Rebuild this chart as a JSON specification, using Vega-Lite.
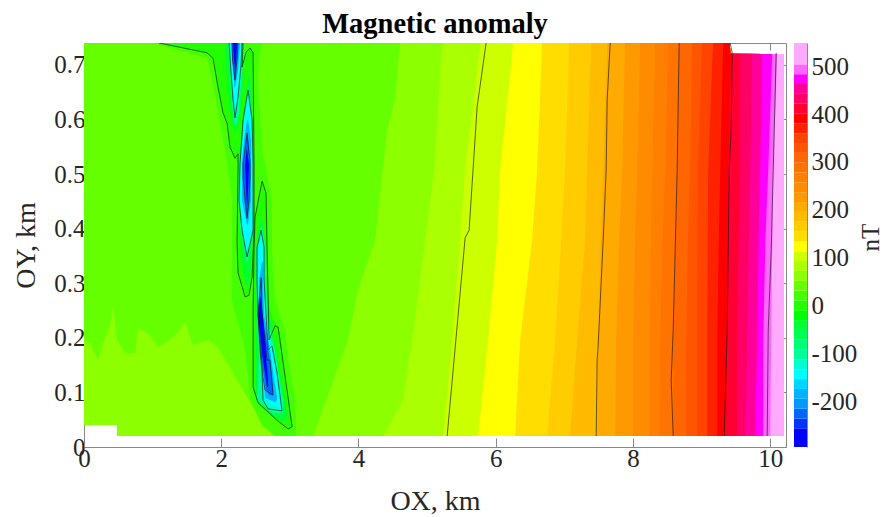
{"$schema":"https://vega.github.io/schema/vega-lite/v6.json","background":"white","padding":{"left":12,"top":10,"right":0,"bottom":0},"spacing":7,
"config":{"view":{"stroke":null},"axis":{"labelFont":"Liberation Serif","titleFont":"Liberation Serif","labelFontSize":25,"titleFontSize":28,"titleFontWeight":"normal","labelColor":"#262626","titleColor":"#262626","domainColor":"#888888","tickColor":"#888888","domainWidth":1,"tickWidth":1,"grid":false,"labelPadding":6,"labelFlush":false}},
"datasets":{
"bands":[
{"id":"a00","l":52.5,"y":0.02,"x":0.48,"x2":10.2},{"id":"a00","l":52.5,"y":0.0399,"x":0.48,"x2":10.2},{"id":"a00","l":52.5,"y":0.04,"x":0,"x2":10.2},{"id":"a00","l":52.5,"y":0.72,"x":0,"x2":10.2},{"id":"a00","l":52.5,"y":0.7201,"x":0,"x2":9.42},{"id":"a00","l":52.5,"y":0.74,"x":0,"x2":9.41},
{"id":"a01","l":73,"y":0.02,"x":4.359,"x2":10.2},{"id":"a01","l":73,"y":0.086,"x":4.65,"x2":10.2},{"id":"a01","l":73,"y":0.196,"x":4.781,"x2":10.2},{"id":"a01","l":73,"y":0.379,"x":4.971,"x2":10.2},{"id":"a01","l":73,"y":0.507,"x":5.102,"x2":10.2},{"id":"a01","l":73,"y":0.72,"x":5.21,"x2":10.2},{"id":"a01","l":73,"y":0.7201,"x":5.21,"x2":9.42},{"id":"a01","l":73,"y":0.74,"x":5.233,"x2":9.41},
{"id":"a02","l":93.5,"y":0.02,"x":5.233,"x2":10.2},{"id":"a02","l":93.5,"y":0.196,"x":5.364,"x2":10.2},{"id":"a02","l":93.5,"y":0.379,"x":5.481,"x2":10.2},{"id":"a02","l":93.5,"y":0.507,"x":5.554,"x2":10.2},{"id":"a02","l":93.5,"y":0.72,"x":5.76,"x2":10.2},{"id":"a02","l":93.5,"y":0.7201,"x":5.76,"x2":9.42},{"id":"a02","l":93.5,"y":0.74,"x":5.773,"x2":9.41},
{"id":"a03","l":114,"y":0.02,"x":5.743,"x2":10.2},{"id":"a03","l":114,"y":0.196,"x":5.889,"x2":10.2},{"id":"a03","l":114,"y":0.379,"x":6.02,"x2":10.2},{"id":"a03","l":114,"y":0.507,"x":6.064,"x2":10.2},{"id":"a03","l":114,"y":0.72,"x":6.24,"x2":10.2},{"id":"a03","l":114,"y":0.7201,"x":6.24,"x2":9.42},{"id":"a03","l":114,"y":0.74,"x":6.254,"x2":9.41},
{"id":"a04","l":134.5,"y":0.02,"x":6.283,"x2":10.2},{"id":"a04","l":134.5,"y":0.196,"x":6.356,"x2":10.2},{"id":"a04","l":134.5,"y":0.379,"x":6.531,"x2":10.2},{"id":"a04","l":134.5,"y":0.507,"x":6.603,"x2":10.2},{"id":"a04","l":134.5,"y":0.72,"x":6.67,"x2":10.2},{"id":"a04","l":134.5,"y":0.7201,"x":6.67,"x2":9.42},{"id":"a04","l":134.5,"y":0.74,"x":6.676,"x2":9.41},
{"id":"a05","l":155,"y":0.02,"x":6.749,"x2":10.2},{"id":"a05","l":155,"y":0.196,"x":6.866,"x2":10.2},{"id":"a05","l":155,"y":0.379,"x":6.953,"x2":10.2},{"id":"a05","l":155,"y":0.507,"x":7.012,"x2":10.2},{"id":"a05","l":155,"y":0.72,"x":7.065,"x2":10.2},{"id":"a05","l":155,"y":0.7201,"x":7.065,"x2":9.42},{"id":"a05","l":155,"y":0.74,"x":7.07,"x2":9.41},
{"id":"a06","l":175.5,"y":0.02,"x":7.085,"x2":10.2},{"id":"a06","l":175.5,"y":0.196,"x":7.187,"x2":10.2},{"id":"a06","l":175.5,"y":0.379,"x":7.303,"x2":10.2},{"id":"a06","l":175.5,"y":0.507,"x":7.332,"x2":10.2},{"id":"a06","l":175.5,"y":0.72,"x":7.385,"x2":10.2},{"id":"a06","l":175.5,"y":0.7201,"x":7.385,"x2":9.42},{"id":"a06","l":175.5,"y":0.74,"x":7.391,"x2":9.41},
{"id":"a07","l":196,"y":0.02,"x":7.478,"x2":10.2},{"id":"a07","l":196,"y":0.196,"x":7.493,"x2":10.2},{"id":"a07","l":196,"y":0.379,"x":7.53,"x2":10.2},{"id":"a07","l":196,"y":0.507,"x":7.566,"x2":10.2},{"id":"a07","l":196,"y":0.72,"x":7.62,"x2":10.2},{"id":"a07","l":196,"y":0.7201,"x":7.62,"x2":9.42},{"id":"a07","l":196,"y":0.74,"x":7.624,"x2":9.41},
{"id":"a08","l":216.5,"y":0.02,"x":7.741,"x2":10.2},{"id":"a08","l":216.5,"y":0.196,"x":7.755,"x2":10.2},{"id":"a08","l":216.5,"y":0.379,"x":7.8,"x2":10.2},{"id":"a08","l":216.5,"y":0.507,"x":7.843,"x2":10.2},{"id":"a08","l":216.5,"y":0.72,"x":7.88,"x2":10.2},{"id":"a08","l":216.5,"y":0.7201,"x":7.88,"x2":9.42},{"id":"a08","l":216.5,"y":0.74,"x":7.886,"x2":9.41},
{"id":"a09","l":237,"y":0.02,"x":8.003,"x2":10.2},{"id":"a09","l":237,"y":0.196,"x":8.003,"x2":10.2},{"id":"a09","l":237,"y":0.379,"x":8.03,"x2":10.2},{"id":"a09","l":237,"y":0.507,"x":8.061,"x2":10.2},{"id":"a09","l":237,"y":0.72,"x":8.1,"x2":10.2},{"id":"a09","l":237,"y":0.7201,"x":8.1,"x2":9.42},{"id":"a09","l":237,"y":0.74,"x":8.105,"x2":9.41},
{"id":"a10","l":257.5,"y":0.02,"x":8.236,"x2":10.2},{"id":"a10","l":257.5,"y":0.196,"x":8.236,"x2":10.2},{"id":"a10","l":257.5,"y":0.379,"x":8.26,"x2":10.2},{"id":"a10","l":257.5,"y":0.507,"x":8.28,"x2":10.2},{"id":"a10","l":257.5,"y":0.72,"x":8.32,"x2":10.2},{"id":"a10","l":257.5,"y":0.7201,"x":8.32,"x2":9.42},{"id":"a10","l":257.5,"y":0.74,"x":8.324,"x2":9.41},
{"id":"a11","l":278,"y":0.02,"x":8.382,"x2":10.2},{"id":"a11","l":278,"y":0.196,"x":8.397,"x2":10.2},{"id":"a11","l":278,"y":0.379,"x":8.43,"x2":10.2},{"id":"a11","l":278,"y":0.507,"x":8.469,"x2":10.2},{"id":"a11","l":278,"y":0.72,"x":8.51,"x2":10.2},{"id":"a11","l":278,"y":0.7201,"x":8.51,"x2":9.42},{"id":"a11","l":278,"y":0.74,"x":8.513,"x2":9.41},
{"id":"a12","l":298.5,"y":0.02,"x":8.586,"x2":10.2},{"id":"a12","l":298.5,"y":0.196,"x":8.586,"x2":10.2},{"id":"a12","l":298.5,"y":0.379,"x":8.615,"x2":10.2},{"id":"a12","l":298.5,"y":0.507,"x":8.644,"x2":10.2},{"id":"a12","l":298.5,"y":0.72,"x":8.67,"x2":10.2},{"id":"a12","l":298.5,"y":0.7201,"x":8.67,"x2":9.42},{"id":"a12","l":298.5,"y":0.74,"x":8.673,"x2":9.41},
{"id":"a13","l":319,"y":0.02,"x":8.776,"x2":10.2},{"id":"a13","l":319,"y":0.196,"x":8.776,"x2":10.2},{"id":"a13","l":319,"y":0.379,"x":8.8,"x2":10.2},{"id":"a13","l":319,"y":0.507,"x":8.834,"x2":10.2},{"id":"a13","l":319,"y":0.72,"x":8.86,"x2":10.2},{"id":"a13","l":319,"y":0.7201,"x":8.86,"x2":9.42},{"id":"a13","l":319,"y":0.74,"x":8.863,"x2":9.41},
{"id":"a14","l":339.5,"y":0.02,"x":8.936,"x2":10.2},{"id":"a14","l":339.5,"y":0.196,"x":8.936,"x2":10.2},{"id":"a14","l":339.5,"y":0.379,"x":8.94,"x2":10.2},{"id":"a14","l":339.5,"y":0.507,"x":8.95,"x2":10.2},{"id":"a14","l":339.5,"y":0.72,"x":9.0,"x2":10.2},{"id":"a14","l":339.5,"y":0.7201,"x":9.0,"x2":9.42},{"id":"a14","l":339.5,"y":0.74,"x":9.009,"x2":9.41},
{"id":"a15","l":360,"y":0.02,"x":9.082,"x2":10.2},{"id":"a15","l":360,"y":0.196,"x":9.082,"x2":10.2},{"id":"a15","l":360,"y":0.379,"x":9.09,"x2":10.2},{"id":"a15","l":360,"y":0.507,"x":9.096,"x2":10.2},{"id":"a15","l":360,"y":0.72,"x":9.16,"x2":10.2},{"id":"a15","l":360,"y":0.7201,"x":9.16,"x2":9.42},{"id":"a15","l":360,"y":0.74,"x":9.169,"x2":9.41},
{"id":"a16","l":380.5,"y":0.02,"x":9.227,"x2":10.2},{"id":"a16","l":380.5,"y":0.196,"x":9.227,"x2":10.2},{"id":"a16","l":380.5,"y":0.379,"x":9.25,"x2":10.2},{"id":"a16","l":380.5,"y":0.507,"x":9.271,"x2":10.2},{"id":"a16","l":380.5,"y":0.72,"x":9.31,"x2":10.2},{"id":"a16","l":380.5,"y":0.7201,"x":9.31,"x2":9.42},{"id":"a16","l":380.5,"y":0.74,"x":9.315,"x2":9.41},
{"id":"a17","l":401,"y":0.02,"x":9.359,"x2":10.2},{"id":"a17","l":401,"y":0.196,"x":9.373,"x2":10.2},{"id":"a17","l":401,"y":0.379,"x":9.38,"x2":10.2},{"id":"a17","l":401,"y":0.507,"x":9.388,"x2":10.2},{"id":"a17","l":401,"y":0.72,"x":9.431,"x2":10.2},
{"id":"a18","l":421.5,"y":0.02,"x":9.519,"x2":10.2},{"id":"a18","l":421.5,"y":0.196,"x":9.519,"x2":10.2},{"id":"a18","l":421.5,"y":0.379,"x":9.54,"x2":10.2},{"id":"a18","l":421.5,"y":0.507,"x":9.563,"x2":10.2},{"id":"a18","l":421.5,"y":0.72,"x":9.563,"x2":10.2},
{"id":"a19","l":442,"y":0.02,"x":9.636,"x2":10.2},{"id":"a19","l":442,"y":0.196,"x":9.665,"x2":10.2},{"id":"a19","l":442,"y":0.379,"x":9.69,"x2":10.2},{"id":"a19","l":442,"y":0.507,"x":9.708,"x2":10.2},{"id":"a19","l":442,"y":0.72,"x":9.738,"x2":10.2},
{"id":"a20","l":462.5,"y":0.02,"x":9.781,"x2":10.2},{"id":"a20","l":462.5,"y":0.196,"x":9.81,"x2":10.2},{"id":"a20","l":462.5,"y":0.379,"x":9.83,"x2":10.2},{"id":"a20","l":462.5,"y":0.507,"x":9.854,"x2":10.2},{"id":"a20","l":462.5,"y":0.72,"x":9.883,"x2":10.2},
{"id":"a21","l":483,"y":0.02,"x":9.898,"x2":10.2},{"id":"a21","l":483,"y":0.196,"x":9.898,"x2":10.2},{"id":"a21","l":483,"y":0.379,"x":9.93,"x2":10.2},{"id":"a21","l":483,"y":0.507,"x":9.971,"x2":10.2},{"id":"a21","l":483,"y":0.72,"x":10.029,"x2":10.2},
{"id":"a22","l":503.5,"y":0.02,"x":10.0,"x2":10.2},{"id":"a22","l":503.5,"y":0.196,"x":10.015,"x2":10.2},{"id":"a22","l":503.5,"y":0.379,"x":10.03,"x2":10.2},{"id":"a22","l":503.5,"y":0.507,"x":10.044,"x2":10.2},{"id":"a22","l":503.5,"y":0.72,"x":10.102,"x2":10.2}
],
"plain":[
{"l":32,"x":0,"y":0.196,"y2":0.74},{"l":32,"x":0.087,"y":0.19,"y2":0.74},{"l":32,"x":0.204,"y":0.159,"y2":0.74},{"l":32,"x":0.277,"y":0.19,"y2":0.74},{"l":32,"x":0.379,"y":0.223,"y2":0.74},{"l":32,"x":0.423,"y":0.26,"y2":0.74},{"l":32,"x":0.481,"y":0.196,"y2":0.74},{"l":32,"x":0.598,"y":0.172,"y2":0.74},{"l":32,"x":0.743,"y":0.172,"y2":0.74},{"l":32,"x":0.787,"y":0.218,"y2":0.74},{"l":32,"x":0.962,"y":0.205,"y2":0.74},{"l":32,"x":1.079,"y":0.183,"y2":0.74},{"l":32,"x":1.254,"y":0.196,"y2":0.74},{"l":32,"x":1.37,"y":0.211,"y2":0.74},{"l":32,"x":1.472,"y":0.229,"y2":0.74},{"l":32,"x":1.589,"y":0.187,"y2":0.74},{"l":32,"x":1.808,"y":0.196,"y2":0.74},{"l":32,"x":1.939,"y":0.185,"y2":0.74},{"l":32,"x":2.464,"y":0.073,"y2":0.74},{"l":32,"x":2.755,"y":0.02,"y2":0.74},{"l":32,"x":3.338,"y":0.02,"y2":0.74},{"l":32,"x":3.834,"y":0.19,"y2":0.74},{"l":32,"x":3.994,"y":0.288,"y2":0.74},{"l":32,"x":4.242,"y":0.379,"y2":0.74},{"l":32,"x":4.417,"y":0.581,"y2":0.74},{"l":32,"x":4.534,"y":0.636,"y2":0.74},{"l":32,"x":4.606,"y":0.74,"y2":0.74}
],
"blobs":[
{"id":"b01","l":11.5,"y":0.02,"x":2.784,"x2":3.09},{"id":"b01","l":11.5,"y":0.04,"x":2.595,"x2":3.09},{"id":"b01","l":11.5,"y":0.086,"x":2.42,"x2":3.076},{"id":"b01","l":11.5,"y":0.178,"x":2.347,"x2":2.959},{"id":"b01","l":11.5,"y":0.214,"x":2.274,"x2":2.93},{"id":"b01","l":11.5,"y":0.269,"x":2.157,"x2":2.784},{"id":"b01","l":11.5,"y":0.361,"x":2.157,"x2":2.74},{"id":"b01","l":11.5,"y":0.452,"x":2.157,"x2":2.74},{"id":"b01","l":11.5,"y":0.544,"x":2.055,"x2":2.595},{"id":"b01","l":11.5,"y":0.672,"x":1.866,"x2":2.536},{"id":"b01","l":11.5,"y":0.712,"x":1.793,"x2":2.55},{"id":"b01","l":11.5,"y":0.74,"x":1.0,"x2":2.595},
{"id":"b02","l":-9,"y":0.74,"x":1.093,"x2":2.318},{"id":"b02","l":-9,"y":0.722,"x":1.793,"x2":2.318},{"id":"b02","l":-9,"y":0.712,"x":1.88,"x2":2.318},{"id":"b02","l":-9,"y":0.698,"x":1.91,"x2":2.318},{"id":"b02","l":-9,"y":0.696,"x":1.91,"x2":2.464},{"id":"b02","l":-9,"y":0.659,"x":1.953,"x2":2.478},{"id":"b02","l":-9,"y":0.612,"x":2.026,"x2":2.478},{"id":"b02","l":-9,"y":0.593,"x":2.085,"x2":2.478},{"id":"b02","l":-9,"y":0.549,"x":2.128,"x2":2.478},{"id":"b02","l":-9,"y":0.529,"x":2.201,"x2":2.478},{"id":"b02","l":-9,"y":0.52,"x":2.245,"x2":2.478},{"id":"b02","l":-9,"y":0.374,"x":2.23,"x2":2.493},{"id":"b02","l":-9,"y":0.319,"x":2.245,"x2":2.449},{"id":"b02","l":-9,"y":0.297,"x":2.289,"x2":2.434},{"id":"b02","l":-9,"y":0.275,"x":2.376,"x2":2.391},
{"id":"b03","l":-9,"y":0.731,"x":2.42,"x2":2.434},{"id":"b03","l":-9,"y":0.722,"x":2.362,"x2":2.464},{"id":"b03","l":-9,"y":0.696,"x":2.318,"x2":2.464},
{"id":"b04","l":-9,"y":0.487,"x":2.595,"x2":2.602},{"id":"b04","l":-9,"y":0.465,"x":2.551,"x2":2.653},{"id":"b04","l":-9,"y":0.421,"x":2.493,"x2":2.668},{"id":"b04","l":-9,"y":0.361,"x":2.485,"x2":2.668},{"id":"b04","l":-9,"y":0.31,"x":2.464,"x2":2.682},{"id":"b04","l":-9,"y":0.256,"x":2.464,"x2":2.697},{"id":"b04","l":-9,"y":0.196,"x":2.464,"x2":2.872},{"id":"b04","l":-9,"y":0.104,"x":2.464,"x2":2.959},{"id":"b04","l":-9,"y":0.081,"x":2.536,"x2":3.003},{"id":"b04","l":-9,"y":0.049,"x":2.813,"x2":3.017},{"id":"b04","l":-9,"y":0.037,"x":2.945,"x2":3.032},{"id":"b04","l":-9,"y":0.031,"x":2.988,"x2":3.003},
{"id":"b05","l":-9,"y":0.222,"x":2.784,"x2":2.799},{"id":"b05","l":-9,"y":0.22,"x":2.77,"x2":2.828},{"id":"b05","l":-9,"y":0.196,"x":2.697,"x2":2.872},
{"id":"c01","l":-50,"y":0.74,"x":2.055,"x2":2.318},{"id":"c01","l":-50,"y":0.672,"x":2.085,"x2":2.318},{"id":"c01","l":-50,"y":0.617,"x":2.128,"x2":2.289},{"id":"c01","l":-50,"y":0.59,"x":2.172,"x2":2.245},{"id":"c01","l":-50,"y":0.577,"x":2.201,"x2":2.208},
{"id":"c02","l":-50,"y":0.681,"x":2.391,"x2":2.405},{"id":"c02","l":-50,"y":0.636,"x":2.347,"x2":2.449},{"id":"c02","l":-50,"y":0.52,"x":2.245,"x2":2.464},{"id":"c02","l":-50,"y":0.397,"x":2.274,"x2":2.464},{"id":"c02","l":-50,"y":0.339,"x":2.3,"x2":2.44},{"id":"c02","l":-50,"y":0.297,"x":2.36,"x2":2.405},
{"id":"c03","l":-50,"y":0.419,"x":2.58,"x2":2.595},{"id":"c03","l":-50,"y":0.366,"x":2.507,"x2":2.653},{"id":"c03","l":-50,"y":0.269,"x":2.493,"x2":2.668},{"id":"c03","l":-50,"y":0.178,"x":2.507,"x2":2.798},{"id":"c03","l":-50,"y":0.086,"x":2.507,"x2":2.93},{"id":"c03","l":-50,"y":0.059,"x":2.711,"x2":2.959},{"id":"c03","l":-50,"y":0.048,"x":2.872,"x2":2.93},
{"id":"d01","l":-111.5,"y":0.74,"x":2.1,"x2":2.31},{"id":"d01","l":-111.5,"y":0.68,"x":2.13,"x2":2.3},{"id":"d01","l":-111.5,"y":0.61,"x":2.17,"x2":2.26},{"id":"d01","l":-111.5,"y":0.585,"x":2.2,"x2":2.21},
{"id":"d02","l":-111.5,"y":0.66,"x":2.39,"x2":2.4},{"id":"d02","l":-111.5,"y":0.599,"x":2.33,"x2":2.44},{"id":"d02","l":-111.5,"y":0.52,"x":2.26,"x2":2.46},{"id":"d02","l":-111.5,"y":0.452,"x":2.245,"x2":2.46},{"id":"d02","l":-111.5,"y":0.397,"x":2.28,"x2":2.46},{"id":"d02","l":-111.5,"y":0.34,"x":2.37,"x2":2.385},
{"id":"d03","l":-111.5,"y":0.405,"x":2.58,"x2":2.59},{"id":"d03","l":-111.5,"y":0.366,"x":2.51,"x2":2.64},{"id":"d03","l":-111.5,"y":0.306,"x":2.51,"x2":2.65},{"id":"d03","l":-111.5,"y":0.242,"x":2.52,"x2":2.67},{"id":"d03","l":-111.5,"y":0.178,"x":2.55,"x2":2.78},{"id":"d03","l":-111.5,"y":0.086,"x":2.52,"x2":2.9},{"id":"d03","l":-111.5,"y":0.062,"x":2.75,"x2":2.9},
{"id":"e01","l":-132,"y":0.74,"x":2.114,"x2":2.303},{"id":"e01","l":-132,"y":0.685,"x":2.143,"x2":2.289},{"id":"e01","l":-132,"y":0.636,"x":2.172,"x2":2.245},{"id":"e01","l":-132,"y":0.603,"x":2.201,"x2":2.208},
{"id":"e02","l":-132,"y":0.654,"x":2.391,"x2":2.398},{"id":"e02","l":-132,"y":0.599,"x":2.318,"x2":2.449},{"id":"e02","l":-132,"y":0.52,"x":2.274,"x2":2.464},{"id":"e02","l":-132,"y":0.452,"x":2.259,"x2":2.464},{"id":"e02","l":-132,"y":0.397,"x":2.303,"x2":2.464},{"id":"e02","l":-132,"y":0.348,"x":2.376,"x2":2.383},
{"id":"e03","l":-132,"y":0.397,"x":2.58,"x2":2.587},{"id":"e03","l":-132,"y":0.366,"x":2.522,"x2":2.624},{"id":"e03","l":-132,"y":0.306,"x":2.522,"x2":2.624},{"id":"e03","l":-132,"y":0.242,"x":2.536,"x2":2.653},{"id":"e03","l":-132,"y":0.179,"x":2.566,"x2":2.682},{"id":"e03","l":-132,"y":0.178,"x":2.566,"x2":2.77},{"id":"e03","l":-132,"y":0.136,"x":2.595,"x2":2.813},{"id":"e03","l":-132,"y":0.086,"x":2.609,"x2":2.872},{"id":"e03","l":-132,"y":0.07,"x":2.682,"x2":2.886},{"id":"e03","l":-132,"y":0.066,"x":2.872,"x2":2.886},
{"id":"e04","l":-132,"y":0.185,"x":2.74,"x2":2.755},{"id":"e04","l":-132,"y":0.178,"x":2.682,"x2":2.77},
{"id":"f01","l":-152.5,"y":0.74,"x":2.128,"x2":2.289},{"id":"f01","l":-152.5,"y":0.69,"x":2.157,"x2":2.274},{"id":"f01","l":-152.5,"y":0.636,"x":2.187,"x2":2.23},{"id":"f01","l":-152.5,"y":0.614,"x":2.201,"x2":2.208},
{"id":"f02","l":-152.5,"y":0.645,"x":2.391,"x2":2.398},{"id":"f02","l":-152.5,"y":0.599,"x":2.332,"x2":2.434},{"id":"f02","l":-152.5,"y":0.52,"x":2.289,"x2":2.449},{"id":"f02","l":-152.5,"y":0.452,"x":2.274,"x2":2.449},{"id":"f02","l":-152.5,"y":0.397,"x":2.318,"x2":2.449},{"id":"f02","l":-152.5,"y":0.361,"x":2.376,"x2":2.383},
{"id":"f03","l":-152.5,"y":0.388,"x":2.58,"x2":2.587},{"id":"f03","l":-152.5,"y":0.361,"x":2.536,"x2":2.609},{"id":"f03","l":-152.5,"y":0.306,"x":2.536,"x2":2.616},{"id":"f03","l":-152.5,"y":0.242,"x":2.551,"x2":2.638},{"id":"f03","l":-152.5,"y":0.178,"x":2.58,"x2":2.74},{"id":"f03","l":-152.5,"y":0.136,"x":2.609,"x2":2.799},{"id":"f03","l":-152.5,"y":0.092,"x":2.624,"x2":2.843},{"id":"f03","l":-152.5,"y":0.079,"x":2.711,"x2":2.857},{"id":"f03","l":-152.5,"y":0.073,"x":2.843,"x2":2.857},
{"id":"g01","l":-193.5,"y":0.74,"x":2.143,"x2":2.274},{"id":"g01","l":-193.5,"y":0.69,"x":2.172,"x2":2.245},{"id":"g01","l":-193.5,"y":0.658,"x":2.194,"x2":2.201},
{"id":"g02","l":-193.5,"y":0.599,"x":2.376,"x2":2.391},{"id":"g02","l":-193.5,"y":0.562,"x":2.332,"x2":2.434},{"id":"g02","l":-193.5,"y":0.52,"x":2.303,"x2":2.434},{"id":"g02","l":-193.5,"y":0.452,"x":2.303,"x2":2.434},{"id":"g02","l":-193.5,"y":0.407,"x":2.376,"x2":2.391},
{"id":"g03","l":-193.5,"y":0.339,"x":2.595,"x2":2.609},{"id":"g03","l":-193.5,"y":0.306,"x":2.551,"x2":2.609},{"id":"g03","l":-193.5,"y":0.242,"x":2.558,"x2":2.624},{"id":"g03","l":-193.5,"y":0.178,"x":2.587,"x2":2.711},{"id":"g03","l":-193.5,"y":0.123,"x":2.624,"x2":2.77},{"id":"g03","l":-193.5,"y":0.09,"x":2.638,"x2":2.813},{"id":"g03","l":-193.5,"y":0.082,"x":2.784,"x2":2.799},
{"id":"h01","l":-234.5,"y":0.74,"x":2.157,"x2":2.245},{"id":"h01","l":-234.5,"y":0.709,"x":2.165,"x2":2.23},{"id":"h01","l":-234.5,"y":0.672,"x":2.194,"x2":2.201},
{"id":"h02","l":-234.5,"y":0.575,"x":2.376,"x2":2.383},{"id":"h02","l":-234.5,"y":0.52,"x":2.318,"x2":2.42},{"id":"h02","l":-234.5,"y":0.495,"x":2.318,"x2":2.42},{"id":"h02","l":-234.5,"y":0.452,"x":2.347,"x2":2.405},{"id":"h02","l":-234.5,"y":0.419,"x":2.376,"x2":2.383},
{"id":"h03","l":-234.5,"y":0.31,"x":2.58,"x2":2.587},{"id":"h03","l":-234.5,"y":0.245,"x":2.536,"x2":2.595},{"id":"h03","l":-234.5,"y":0.19,"x":2.566,"x2":2.668},{"id":"h03","l":-234.5,"y":0.159,"x":2.587,"x2":2.711},{"id":"h03","l":-234.5,"y":0.128,"x":2.624,"x2":2.74},{"id":"h03","l":-234.5,"y":0.104,"x":2.653,"x2":2.755},{"id":"h03","l":-234.5,"y":0.095,"x":2.711,"x2":2.755},
{"id":"i01","l":-294,"y":0.74,"x":2.172,"x2":2.23},{"id":"i01","l":-294,"y":0.709,"x":2.187,"x2":2.216},{"id":"i01","l":-294,"y":0.69,"x":2.201,"x2":2.205},
{"id":"i02","l":-294,"y":0.544,"x":2.369,"x2":2.376},{"id":"i02","l":-294,"y":0.516,"x":2.347,"x2":2.405},{"id":"i02","l":-294,"y":0.471,"x":2.362,"x2":2.391},{"id":"i02","l":-294,"y":0.443,"x":2.376,"x2":2.38},
{"id":"i03","l":-294,"y":0.275,"x":2.566,"x2":2.573},{"id":"i03","l":-294,"y":0.238,"x":2.536,"x2":2.609},{"id":"i03","l":-294,"y":0.165,"x":2.602,"x2":2.653},{"id":"i03","l":-294,"y":0.123,"x":2.653,"x2":2.682},{"id":"i03","l":-294,"y":0.11,"x":2.668,"x2":2.682}
],
"contours":[
{"c":"p100","o":1,"x":5.86,"y":0.74},{"c":"p100","o":2,"x":5.729,"y":0.623},{"c":"p100","o":3,"x":5.612,"y":0.397},{"c":"p100","o":4,"x":5.554,"y":0.383},{"c":"p100","o":5,"x":5.292,"y":0.02},
{"c":"p200","o":1,"x":7.668,"y":0.74},{"c":"p200","o":2,"x":7.624,"y":0.636},{"c":"p200","o":3,"x":7.609,"y":0.507},{"c":"p200","o":4,"x":7.566,"y":0.379},{"c":"p200","o":5,"x":7.493,"y":0.187},{"c":"p200","o":6,"x":7.478,"y":0.159},{"c":"p200","o":7,"x":7.464,"y":0.02},
{"c":"p300","o":1,"x":8.673,"y":0.74},{"c":"p300","o":2,"x":8.644,"y":0.507},{"c":"p300","o":3,"x":8.615,"y":0.361},{"c":"p300","o":4,"x":8.586,"y":0.214},{"c":"p300","o":5,"x":8.557,"y":0.123},{"c":"p300","o":6,"x":8.586,"y":0.02},
{"c":"p400","o":1,"x":9.417,"y":0.74},{"c":"p400","o":2,"x":9.446,"y":0.722},{"c":"p400","o":3,"x":9.431,"y":0.581},{"c":"p400","o":4,"x":9.402,"y":0.507},{"c":"p400","o":5,"x":9.388,"y":0.361},{"c":"p400","o":6,"x":9.373,"y":0.214},{"c":"p400","o":7,"x":9.329,"y":0.02},
{"c":"p500","o":1,"x":10.087,"y":0.722},{"c":"p500","o":2,"x":10.044,"y":0.507},{"c":"p500","o":3,"x":10.015,"y":0.361},{"c":"p500","o":4,"x":9.971,"y":0.214},{"c":"p500","o":5,"x":9.956,"y":0.02},
{"c":"z1","o":1,"x":1.093,"y":0.74},{"c":"z1","o":2,"x":1.793,"y":0.722},{"c":"z1","o":3,"x":1.88,"y":0.712},{"c":"z1","o":4,"x":1.953,"y":0.659},{"c":"z1","o":5,"x":2.026,"y":0.612},{"c":"z1","o":6,"x":2.085,"y":0.593},{"c":"z1","o":7,"x":2.128,"y":0.549},{"c":"z1","o":8,"x":2.201,"y":0.529},{"c":"z1","o":9,"x":2.245,"y":0.537},{"c":"z1","o":10,"x":2.245,"y":0.516},{"c":"z1","o":11,"x":2.23,"y":0.374},{"c":"z1","o":12,"x":2.245,"y":0.319},{"c":"z1","o":13,"x":2.347,"y":0.275},{"c":"z1","o":14,"x":2.405,"y":0.278},{"c":"z1","o":15,"x":2.449,"y":0.31},{"c":"z1","o":16,"x":2.478,"y":0.394},{"c":"z1","o":17,"x":2.478,"y":0.52},{"c":"z1","o":18,"x":2.464,"y":0.722},{"c":"z1","o":19,"x":2.42,"y":0.731},{"c":"z1","o":20,"x":2.362,"y":0.723},{"c":"z1","o":21,"x":2.303,"y":0.696},{"c":"z1","o":22,"x":2.318,"y":0.74},
{"c":"z2","o":1,"x":2.595,"y":0.487},{"c":"z2","o":2,"x":2.493,"y":0.421},{"c":"z2","o":3,"x":2.478,"y":0.361},{"c":"z2","o":4,"x":2.464,"y":0.256},{"c":"z2","o":5,"x":2.464,"y":0.11},{"c":"z2","o":6,"x":2.536,"y":0.081},{"c":"z2","o":7,"x":2.813,"y":0.049},{"c":"z2","o":8,"x":2.974,"y":0.033},{"c":"z2","o":9,"x":3.032,"y":0.037},{"c":"z2","o":10,"x":2.959,"y":0.104},{"c":"z2","o":11,"x":2.828,"y":0.22},{"c":"z2","o":12,"x":2.784,"y":0.222},{"c":"z2","o":13,"x":2.697,"y":0.196},{"c":"z2","o":14,"x":2.668,"y":0.361},{"c":"z2","o":15,"x":2.653,"y":0.465},{"c":"z2","o":16,"x":2.595,"y":0.487},
{"c":"m1","o":1,"x":2.114,"y":0.74},{"c":"m1","o":2,"x":2.143,"y":0.685},{"c":"m1","o":3,"x":2.172,"y":0.636},{"c":"m1","o":4,"x":2.201,"y":0.603},{"c":"m1","o":5,"x":2.245,"y":0.641},{"c":"m1","o":6,"x":2.289,"y":0.7},{"c":"m1","o":7,"x":2.303,"y":0.74},
{"c":"m2","o":1,"x":2.391,"y":0.654},{"c":"m2","o":2,"x":2.318,"y":0.599},{"c":"m2","o":3,"x":2.274,"y":0.52},{"c":"m2","o":4,"x":2.259,"y":0.452},{"c":"m2","o":5,"x":2.303,"y":0.397},{"c":"m2","o":6,"x":2.376,"y":0.348},{"c":"m2","o":7,"x":2.464,"y":0.397},{"c":"m2","o":8,"x":2.464,"y":0.52},{"c":"m2","o":9,"x":2.449,"y":0.599},{"c":"m2","o":10,"x":2.391,"y":0.654},
{"c":"m3","o":1,"x":2.58,"y":0.397},{"c":"m3","o":2,"x":2.522,"y":0.366},{"c":"m3","o":3,"x":2.522,"y":0.306},{"c":"m3","o":4,"x":2.536,"y":0.242},{"c":"m3","o":5,"x":2.566,"y":0.178},{"c":"m3","o":6,"x":2.595,"y":0.136},{"c":"m3","o":7,"x":2.609,"y":0.086},{"c":"m3","o":8,"x":2.682,"y":0.07},{"c":"m3","o":9,"x":2.886,"y":0.066},{"c":"m3","o":10,"x":2.813,"y":0.136},{"c":"m3","o":11,"x":2.74,"y":0.185},{"c":"m3","o":12,"x":2.682,"y":0.178},{"c":"m3","o":13,"x":2.653,"y":0.242},{"c":"m3","o":14,"x":2.624,"y":0.306},{"c":"m3","o":15,"x":2.624,"y":0.366},{"c":"m3","o":16,"x":2.58,"y":0.397},
{"c":"n1","o":1,"x":2.157,"y":0.74},{"c":"n1","o":2,"x":2.165,"y":0.709},{"c":"n1","o":3,"x":2.201,"y":0.672},{"c":"n1","o":4,"x":2.23,"y":0.709},{"c":"n1","o":5,"x":2.245,"y":0.74},
{"c":"n2","o":1,"x":2.376,"y":0.575},{"c":"n2","o":2,"x":2.318,"y":0.52},{"c":"n2","o":3,"x":2.318,"y":0.495},{"c":"n2","o":4,"x":2.347,"y":0.452},{"c":"n2","o":5,"x":2.376,"y":0.419},{"c":"n2","o":6,"x":2.405,"y":0.452},{"c":"n2","o":7,"x":2.42,"y":0.495},{"c":"n2","o":8,"x":2.42,"y":0.52},{"c":"n2","o":9,"x":2.376,"y":0.575},
{"c":"n3","o":1,"x":2.58,"y":0.31},{"c":"n3","o":2,"x":2.536,"y":0.245},{"c":"n3","o":3,"x":2.566,"y":0.19},{"c":"n3","o":4,"x":2.609,"y":0.128},{"c":"n3","o":5,"x":2.638,"y":0.104},{"c":"n3","o":6,"x":2.755,"y":0.095},{"c":"n3","o":7,"x":2.711,"y":0.159},{"c":"n3","o":8,"x":2.668,"y":0.159},{"c":"n3","o":9,"x":2.595,"y":0.245},{"c":"n3","o":10,"x":2.58,"y":0.31}
],
"bar":[{"lo":-294,"hi":-255},{"lo":-255,"hi":-234.5},{"lo":-234.5,"hi":-214},{"lo":-214,"hi":-193.5},{"lo":-193.5,"hi":-173},{"lo":-173,"hi":-152.5},{"lo":-152.5,"hi":-132},{"lo":-132,"hi":-111.5},{"lo":-111.5,"hi":-91},{"lo":-91,"hi":-70.5},{"lo":-70.5,"hi":-50},{"lo":-50,"hi":-29.5},{"lo":-29.5,"hi":-9},{"lo":-9,"hi":11.5},{"lo":11.5,"hi":32},{"lo":32,"hi":52.5},{"lo":52.5,"hi":73},{"lo":73,"hi":93.5},{"lo":93.5,"hi":114},{"lo":114,"hi":134.5},{"lo":134.5,"hi":155},{"lo":155,"hi":175.5},{"lo":175.5,"hi":196},{"lo":196,"hi":216.5},{"lo":216.5,"hi":237},{"lo":237,"hi":257.5},{"lo":257.5,"hi":278},{"lo":278,"hi":298.5},{"lo":298.5,"hi":319},{"lo":319,"hi":339.5},{"lo":339.5,"hi":360},{"lo":360,"hi":380.5},{"lo":380.5,"hi":401},{"lo":401,"hi":421.5},{"lo":421.5,"hi":442},{"lo":442,"hi":462.5},{"lo":462.5,"hi":483},{"lo":483,"hi":503.5},{"lo":503.5,"hi":548}]
},
"hconcat":[
{"width":702,"height":404,
"title":{"text":"Magnetic anomaly","font":"Liberation Serif","fontSize":28.5,"fontWeight":"bold","color":"#000000","offset":4,"anchor":"middle"},
"resolve":{"axis":{"x":"independent","y":"independent"}},
"encoding":{
"x":{"field":"x","type":"quantitative","scale":{"domain":[0,10.23],"nice":false,"zero":false},"axis":null},
"y":{"field":"y","type":"quantitative","scale":{"domain":[0,0.74],"nice":false,"zero":false},"axis":null},
"color":{"field":"l","type":"quantitative","legend":null,"scale":{"type":"threshold","domain":[-255,-234.5,-214,-193.5,-173,-152.5,-132,-111.5,-91,-70.5,-50,-29.5,-9,11.5,32,52.5,73,93.5,114,134.5,155,175.5,196,216.5,237,257.5,278,298.5,319,339.5,360,380.5,401,421.5,442,462.5,483,503.5],"range":["#0000ff","#0033ff","#0066ff","#0099ff","#00b2ff","#00d5ff","#00ffff","#00ffcc","#00ff99","#00ff77","#00ff55","#00ff33","#00ff00","#22ff00","#44ff00","#66ff00","#8cff00","#aaff00","#ccff00","#ffff00","#ffdd00","#ffcc00","#ffbb00","#ffaa00","#ff9900","#ff8c00","#ff8000","#ff7300","#ff6600","#ff5500","#ff4400","#ff2200","#ff0000","#ff0033","#ff0066","#ff0099","#ff00ff","#ff66ff","#ffaaff"]}}},
"layer":[
{"data":{"name":"bands"},"mark":{"type":"area","orient":"horizontal"},"encoding":{
"x":{"field":"x","type":"quantitative","scale":{"domain":[0,10.23],"nice":false,"zero":false},"axis":{"orient":"bottom","title":"OX, km","values":[0,2,4,6,8,10],"tickSize":-9,"labelPadding":8,"titlePadding":16}},
"x2":{"field":"x2"},
"y":{"field":"y","type":"quantitative","scale":{"domain":[0,0.74],"nice":false,"zero":false},"axis":{"orient":"left","title":"OY, km","values":[0,0.1,0.2,0.3,0.4,0.5,0.6,0.7],"format":".1~f","tickSize":-7,"titlePadding":13}},
"detail":{"field":"id"}}},
{"data":{"name":"plain"},"mark":{"type":"area","orient":"vertical"},"encoding":{
"x":{"field":"x","type":"quantitative","scale":{"domain":[0,10.23],"nice":false,"zero":false},"axis":{"orient":"top","title":null,"values":[0,2,4,6,8,10],"labels":false,"tickSize":-7}},
"y":{"field":"y","type":"quantitative","scale":{"domain":[0,0.74],"nice":false,"zero":false},"axis":{"orient":"right","title":null,"values":[0,0.1,0.2,0.3,0.4,0.5,0.6,0.7],"labels":false,"tickSize":-7}},
"y2":{"field":"y2"}}},
{"data":{"name":"blobs"},"mark":{"type":"area","orient":"horizontal"},"encoding":{
"x2":{"field":"x2"},"detail":{"field":"id"}}},
{"data":{"name":"contours"},"mark":{"type":"line","strokeWidth":0.8,"opacity":0.85,"clip":true},"encoding":{
"color":{"value":"#1a1a1a"},"detail":{"field":"c"},"order":{"field":"o","type":"quantitative"}}}
]},
{"width":13,"height":404,"data":{"name":"bar"},"mark":{"type":"rect"},"encoding":{
"y":{"field":"lo","type":"quantitative","scale":{"domain":[-294,548],"nice":false,"zero":false},"axis":{"orient":"right","title":"nT","titleFontSize":25,"titleAngle":270,"titleBaseline":"middle","titleX":63,"titleY":194,"values":[-200,-100,0,100,200,300,400,500],"labelExpr":"datum.value + ''","tickSize":-3,"labelPadding":7,"domain":true}},
"y2":{"field":"hi"},
"color":{"field":"lo","type":"quantitative","legend":null,"scale":{"type":"threshold","domain":[-255,-234.5,-214,-193.5,-173,-152.5,-132,-111.5,-91,-70.5,-50,-29.5,-9,11.5,32,52.5,73,93.5,114,134.5,155,175.5,196,216.5,237,257.5,278,298.5,319,339.5,360,380.5,401,421.5,442,462.5,483,503.5],"range":["#0000ff","#0033ff","#0066ff","#0099ff","#00b2ff","#00d5ff","#00ffff","#00ffcc","#00ff99","#00ff77","#00ff55","#00ff33","#00ff00","#22ff00","#44ff00","#66ff00","#8cff00","#aaff00","#ccff00","#ffff00","#ffdd00","#ffcc00","#ffbb00","#ffaa00","#ff9900","#ff8c00","#ff8000","#ff7300","#ff6600","#ff5500","#ff4400","#ff2200","#ff0000","#ff0033","#ff0066","#ff0099","#ff00ff","#ff66ff","#ffaaff"]}}}}
]}
